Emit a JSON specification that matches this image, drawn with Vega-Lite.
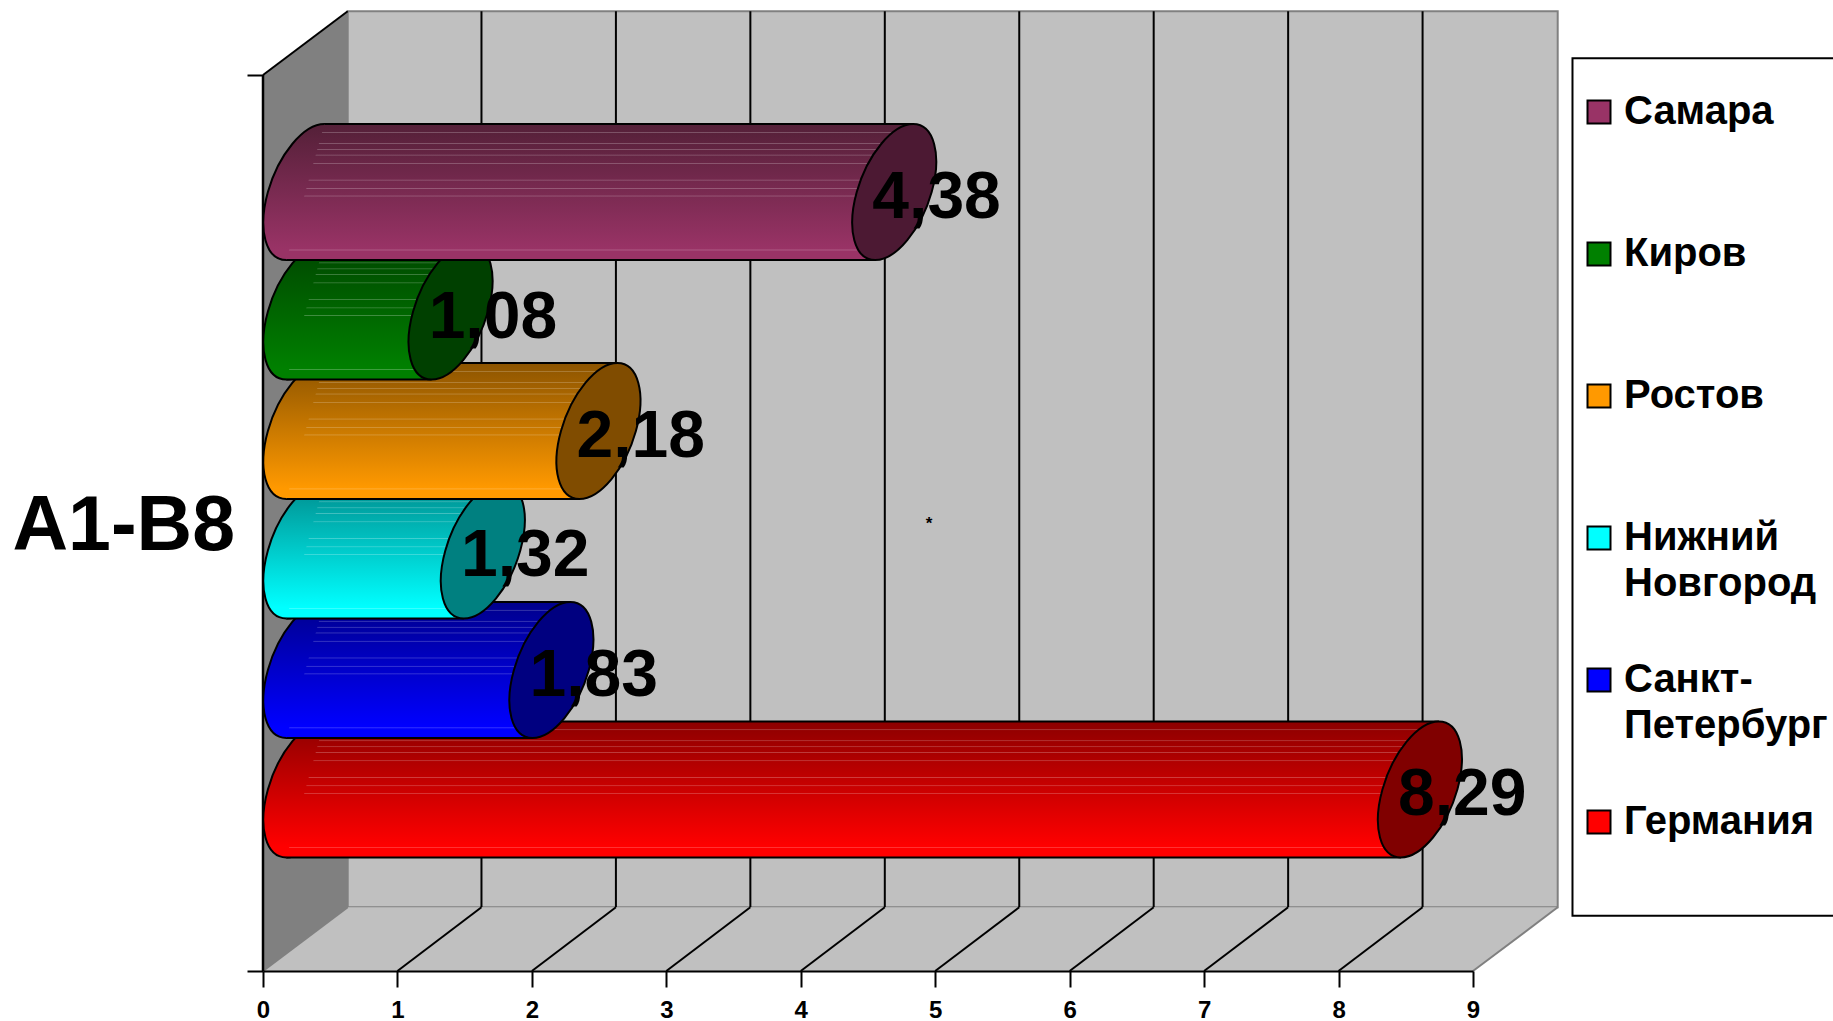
{
"$schema":"https://vega.github.io/schema/vega-lite/v6.json",
"width":1210,"height":896,
"autosize":{"type":"none"},
"padding":{"left":263,"top":75,"right":360,"bottom":50},
"background":"white",
"datasets":{
"cities":[
{"city":"Германия","value":8.29,"rank":1},
{"city":"Санкт-Петербург","value":1.83,"rank":2},
{"city":"Нижний Новгород","value":1.32,"rank":3},
{"city":"Ростов","value":2.18,"rank":4},
{"city":"Киров","value":1.08,"rank":5},
{"city":"Самара","value":4.38,"rank":6}],
"ticks":[{"tick":1},{"tick":2},{"tick":3},{"tick":4},{"tick":5},{"tick":6},{"tick":7},{"tick":8}],
"planes":[{"plane":0},{"plane":1}]
},
"data":{"name":"cities"},
"layer":[
{"data":{"values":[{}]},"mark":{"type":"rect","fill":"#c0c0c0","stroke":"#808080","strokeWidth":2},
"encoding":{"x":{"datum":0.63,"type":"quantitative","scale":{"domain":[0,9],"nice":false,"zero":false},
"axis":{"title":null,"values":[0,1,2,3,4,5,6,7,8,9],"format":"d","grid":false,"zindex":1,"domainColor":"#000","domainWidth":2,"tickColor":"#000","tickWidth":2,"tickSize":16,"labelFont":"Liberation Sans","labelFontWeight":"bold","labelFontSize":24,"labelColor":"#000","labelPadding":11,"labelFlush":false,"labelOverlap":false}},
"x2":{"datum":9.63},
"y":{"datum":0.533,"type":"quantitative","scale":{"domain":[0,7.5],"nice":false,"zero":false},
"axis":{"title":"A1-B8","values":[0,7.5],"labels":false,"grid":false,"domainColor":"#000","domainWidth":2,"tickColor":"#000","tickWidth":2,"tickSize":16,"titleFont":"Liberation Sans","titleFontWeight":"bold","titleFontSize":77,"titleColor":"#000","titleAngle":0,"titleAlign":"left","titleBaseline":"middle","titleX":-251,"titleY":451}},
"y2":{"datum":8.033}}},
{"data":{"name":"ticks"},"transform":[{"calculate":"datum.tick+0.625","as":"backX"}],"layer":[
{"mark":{"type":"rule","color":"#000","strokeWidth":2},"encoding":{"x":{"field":"backX","type":"quantitative"},"y":{"datum":0.533,"type":"quantitative"},"y2":{"datum":8.033}}}
]},
{"data":{"name":"planes"},"transform":[{"calculate":"datum.plane*0.63","as":"dx"},{"calculate":"datum.plane*0.533","as":"dy"},{"calculate":"9+datum.dx","as":"floorEnd"},{"calculate":"7.5+datum.dy","as":"wallTop"}],"layer":[
{"mark":{"type":"area","orient":"horizontal","fill":"#c0c0c0"},"encoding":{"x":{"field":"dx","type":"quantitative","stack":null},"x2":{"field":"floorEnd"},"y":{"field":"dy","type":"quantitative"}}},
{"mark":{"type":"area","orient":"vertical","fill":"#808080"},"encoding":{"x":{"field":"dx","type":"quantitative"},"y":{"field":"dy","type":"quantitative","stack":null},"y2":{"field":"wallTop"}}}
]},
{"data":{"name":"ticks"},"transform":[{"calculate":"datum.tick+0.625","as":"backX"}],"layer":[
{"mark":{"type":"rule","color":"#000","strokeWidth":2},"encoding":{"x":{"field":"tick","type":"quantitative"},"x2":{"field":"backX"},"y":{"datum":0,"type":"quantitative"},"y2":{"datum":0.533}}}
]},
{"data":{"values":[{}]},"layer":[
{"mark":{"type":"rule","color":"#808080","strokeWidth":2},"encoding":{"x":{"datum":9,"type":"quantitative"},"x2":{"datum":9.63},"y":{"datum":0,"type":"quantitative"},"y2":{"datum":0.533}}},
{"mark":{"type":"rule","color":"#808080","strokeWidth":2},"encoding":{"x":{"datum":0,"type":"quantitative"},"x2":{"datum":0.63},"y":{"datum":0,"type":"quantitative"},"y2":{"datum":0.533}}},
{"mark":{"type":"rule","color":"#000","strokeWidth":2},"encoding":{"x":{"datum":0,"type":"quantitative"},"x2":{"datum":0.63},"y":{"datum":7.5,"type":"quantitative"},"y2":{"datum":8.033}}},
{"mark":{"type":"rule","color":"#000","strokeWidth":2.5},"encoding":{"x":{"datum":0,"type":"quantitative"},"y":{"datum":0,"type":"quantitative"},"y2":{"datum":7.5}}},
{"mark":{"type":"rect","fill":"#fff","stroke":"#000","strokeWidth":2},"encoding":{"x":{"datum":9.74,"type":"quantitative"},"x2":{"datum":12},"y":{"datum":0.463,"type":"quantitative"},"y2":{"datum":7.64}}},
{"mark":{"type":"text","text":"*","font":"Liberation Sans","fontWeight":"bold","fontSize":17,"color":"#000"},"encoding":{"x":{"datum":4.955,"type":"quantitative"},"y":{"datum":3.74,"type":"quantitative"}}}
]},
{"transform":[
{"calculate":"datum.rank+0.52","as":"rowY"},
{"calculate":"[-1,1]","as":"side"},
{"flatten":["side"]},
{"calculate":"0.315+datum.side*0.1414","as":"bodyStart"},
{"calculate":"datum.value+0.315+datum.side*0.1414","as":"bodyEnd"},
{"calculate":"datum.rowY+datum.side*0.569","as":"edgeY"},
{"calculate":"datum.value+0.315","as":"capX"},
{"calculate":"datum.value+0.63","as":"labelX"},
{"calculate":"replace(format(datum.value,'.2f'),'.',',')","as":"label"}
],
"layer":[
{"transform":[{"filter":"datum.rank===1"}],"layer":[
{"transform":[{"filter":"datum.side>0"}],"mark":{"type":"point","shape":"M0.279 -1C0.583 -1 0.705 -0.552 0.551 0C0.397 0.552 0.025 1 -0.279 1C-0.583 1 -0.705 0.552 -0.551 0C-0.397 -0.552 -0.025 -1 0.279 -1Z","size":18496,"filled":true,"opacity":1,"stroke":"#000","strokeWidth":2,"fill":{"gradient":"linear","x1":0,"y1":0,"x2":0,"y2":1,"stops":[{"offset":0,"color":"#8c0000"},{"offset":0.92,"color":"#ff0000"},{"offset":1,"color":"#ff0000"}]}},"encoding":{"x":{"datum":0.315,"type":"quantitative"},"y":{"field":"rowY","type":"quantitative"}}},
{"mark":{"type":"area","orient":"horizontal","fill":{"gradient":"linear","x1":0,"y1":0,"x2":0,"y2":1,"stops":[{"offset":0,"color":"#8c0000"},{"offset":0.92,"color":"#ff0000"},{"offset":1,"color":"#ff0000"}]}},"encoding":{"x":{"field":"bodyStart","type":"quantitative","stack":null},"x2":{"field":"bodyEnd"},"y":{"field":"edgeY","type":"quantitative"}}},
{"mark":{"type":"area","orient":"horizontal","fill":{"gradient":"linear","x1":0,"y1":0,"x2":0,"y2":1,"stops":[{"offset":0.055,"color":"#ffffff00"},{"offset":0.061,"color":"#ffffff40"},{"offset":0.067,"color":"#ffffff00"},{"offset":0.136,"color":"#ffffff00"},{"offset":0.142,"color":"#ffffff40"},{"offset":0.148,"color":"#ffffff00"},{"offset":0.18,"color":"#ffffff00"},{"offset":0.186,"color":"#ffffff40"},{"offset":0.192,"color":"#ffffff00"},{"offset":0.222,"color":"#ffffff00"},{"offset":0.228,"color":"#ffffff40"},{"offset":0.234,"color":"#ffffff00"},{"offset":0.283,"color":"#ffffff00"},{"offset":0.289,"color":"#ffffff40"},{"offset":0.295,"color":"#ffffff00"},{"offset":0.406,"color":"#ffffff00"},{"offset":0.412,"color":"#ffffff40"},{"offset":0.418,"color":"#ffffff00"},{"offset":0.467,"color":"#ffffff00"},{"offset":0.473,"color":"#ffffff40"},{"offset":0.479,"color":"#ffffff00"},{"offset":0.523,"color":"#ffffff00"},{"offset":0.529,"color":"#ffffff40"},{"offset":0.535,"color":"#ffffff00"},{"offset":0.92,"color":"#ffffff00"},{"offset":0.926,"color":"#ffffff40"},{"offset":0.932,"color":"#ffffff00"}]}},"encoding":{"x":{"field":"bodyStart","type":"quantitative","stack":null},"x2":{"field":"bodyEnd"},"y":{"field":"edgeY","type":"quantitative"}}},
{"mark":{"type":"rule","color":"#000","strokeWidth":2},"encoding":{"x":{"field":"bodyStart","type":"quantitative"},"x2":{"field":"bodyEnd"},"y":{"field":"edgeY","type":"quantitative"}}},
{"transform":[{"filter":"datum.side>0"}],"mark":{"type":"point","shape":"M0.279 -1C0.583 -1 0.705 -0.552 0.551 0C0.397 0.552 0.025 1 -0.279 1C-0.583 1 -0.705 0.552 -0.551 0C-0.397 -0.552 -0.025 -1 0.279 -1Z","size":18496,"filled":true,"opacity":1,"stroke":"#000","strokeWidth":2,"fill":"#800000"},"encoding":{"x":{"field":"capX","type":"quantitative"},"y":{"field":"rowY","type":"quantitative"}}}
]},
{"transform":[{"filter":"datum.rank===2"}],"layer":[
{"transform":[{"filter":"datum.side>0"}],"mark":{"type":"point","shape":"M0.279 -1C0.583 -1 0.705 -0.552 0.551 0C0.397 0.552 0.025 1 -0.279 1C-0.583 1 -0.705 0.552 -0.551 0C-0.397 -0.552 -0.025 -1 0.279 -1Z","size":18496,"filled":true,"opacity":1,"stroke":"#000","strokeWidth":2,"fill":{"gradient":"linear","x1":0,"y1":0,"x2":0,"y2":1,"stops":[{"offset":0,"color":"#00008c"},{"offset":0.92,"color":"#0000ff"},{"offset":1,"color":"#0000ff"}]}},"encoding":{"x":{"datum":0.315,"type":"quantitative"},"y":{"field":"rowY","type":"quantitative"}}},
{"mark":{"type":"area","orient":"horizontal","fill":{"gradient":"linear","x1":0,"y1":0,"x2":0,"y2":1,"stops":[{"offset":0,"color":"#00008c"},{"offset":0.92,"color":"#0000ff"},{"offset":1,"color":"#0000ff"}]}},"encoding":{"x":{"field":"bodyStart","type":"quantitative","stack":null},"x2":{"field":"bodyEnd"},"y":{"field":"edgeY","type":"quantitative"}}},
{"mark":{"type":"area","orient":"horizontal","fill":{"gradient":"linear","x1":0,"y1":0,"x2":0,"y2":1,"stops":[{"offset":0.055,"color":"#ffffff00"},{"offset":0.061,"color":"#ffffff40"},{"offset":0.067,"color":"#ffffff00"},{"offset":0.136,"color":"#ffffff00"},{"offset":0.142,"color":"#ffffff40"},{"offset":0.148,"color":"#ffffff00"},{"offset":0.18,"color":"#ffffff00"},{"offset":0.186,"color":"#ffffff40"},{"offset":0.192,"color":"#ffffff00"},{"offset":0.222,"color":"#ffffff00"},{"offset":0.228,"color":"#ffffff40"},{"offset":0.234,"color":"#ffffff00"},{"offset":0.283,"color":"#ffffff00"},{"offset":0.289,"color":"#ffffff40"},{"offset":0.295,"color":"#ffffff00"},{"offset":0.406,"color":"#ffffff00"},{"offset":0.412,"color":"#ffffff40"},{"offset":0.418,"color":"#ffffff00"},{"offset":0.467,"color":"#ffffff00"},{"offset":0.473,"color":"#ffffff40"},{"offset":0.479,"color":"#ffffff00"},{"offset":0.523,"color":"#ffffff00"},{"offset":0.529,"color":"#ffffff40"},{"offset":0.535,"color":"#ffffff00"},{"offset":0.92,"color":"#ffffff00"},{"offset":0.926,"color":"#ffffff40"},{"offset":0.932,"color":"#ffffff00"}]}},"encoding":{"x":{"field":"bodyStart","type":"quantitative","stack":null},"x2":{"field":"bodyEnd"},"y":{"field":"edgeY","type":"quantitative"}}},
{"mark":{"type":"rule","color":"#000","strokeWidth":2},"encoding":{"x":{"field":"bodyStart","type":"quantitative"},"x2":{"field":"bodyEnd"},"y":{"field":"edgeY","type":"quantitative"}}},
{"transform":[{"filter":"datum.side>0"}],"mark":{"type":"point","shape":"M0.279 -1C0.583 -1 0.705 -0.552 0.551 0C0.397 0.552 0.025 1 -0.279 1C-0.583 1 -0.705 0.552 -0.551 0C-0.397 -0.552 -0.025 -1 0.279 -1Z","size":18496,"filled":true,"opacity":1,"stroke":"#000","strokeWidth":2,"fill":"#000080"},"encoding":{"x":{"field":"capX","type":"quantitative"},"y":{"field":"rowY","type":"quantitative"}}}
]},
{"transform":[{"filter":"datum.rank===3"}],"layer":[
{"transform":[{"filter":"datum.side>0"}],"mark":{"type":"point","shape":"M0.279 -1C0.583 -1 0.705 -0.552 0.551 0C0.397 0.552 0.025 1 -0.279 1C-0.583 1 -0.705 0.552 -0.551 0C-0.397 -0.552 -0.025 -1 0.279 -1Z","size":18496,"filled":true,"opacity":1,"stroke":"#000","strokeWidth":2,"fill":{"gradient":"linear","x1":0,"y1":0,"x2":0,"y2":1,"stops":[{"offset":0,"color":"#008c8c"},{"offset":0.92,"color":"#00ffff"},{"offset":1,"color":"#00ffff"}]}},"encoding":{"x":{"datum":0.315,"type":"quantitative"},"y":{"field":"rowY","type":"quantitative"}}},
{"mark":{"type":"area","orient":"horizontal","fill":{"gradient":"linear","x1":0,"y1":0,"x2":0,"y2":1,"stops":[{"offset":0,"color":"#008c8c"},{"offset":0.92,"color":"#00ffff"},{"offset":1,"color":"#00ffff"}]}},"encoding":{"x":{"field":"bodyStart","type":"quantitative","stack":null},"x2":{"field":"bodyEnd"},"y":{"field":"edgeY","type":"quantitative"}}},
{"mark":{"type":"area","orient":"horizontal","fill":{"gradient":"linear","x1":0,"y1":0,"x2":0,"y2":1,"stops":[{"offset":0.055,"color":"#ffffff00"},{"offset":0.061,"color":"#ffffff40"},{"offset":0.067,"color":"#ffffff00"},{"offset":0.136,"color":"#ffffff00"},{"offset":0.142,"color":"#ffffff40"},{"offset":0.148,"color":"#ffffff00"},{"offset":0.18,"color":"#ffffff00"},{"offset":0.186,"color":"#ffffff40"},{"offset":0.192,"color":"#ffffff00"},{"offset":0.222,"color":"#ffffff00"},{"offset":0.228,"color":"#ffffff40"},{"offset":0.234,"color":"#ffffff00"},{"offset":0.283,"color":"#ffffff00"},{"offset":0.289,"color":"#ffffff40"},{"offset":0.295,"color":"#ffffff00"},{"offset":0.406,"color":"#ffffff00"},{"offset":0.412,"color":"#ffffff40"},{"offset":0.418,"color":"#ffffff00"},{"offset":0.467,"color":"#ffffff00"},{"offset":0.473,"color":"#ffffff40"},{"offset":0.479,"color":"#ffffff00"},{"offset":0.523,"color":"#ffffff00"},{"offset":0.529,"color":"#ffffff40"},{"offset":0.535,"color":"#ffffff00"},{"offset":0.92,"color":"#ffffff00"},{"offset":0.926,"color":"#ffffff40"},{"offset":0.932,"color":"#ffffff00"}]}},"encoding":{"x":{"field":"bodyStart","type":"quantitative","stack":null},"x2":{"field":"bodyEnd"},"y":{"field":"edgeY","type":"quantitative"}}},
{"mark":{"type":"rule","color":"#000","strokeWidth":2},"encoding":{"x":{"field":"bodyStart","type":"quantitative"},"x2":{"field":"bodyEnd"},"y":{"field":"edgeY","type":"quantitative"}}},
{"transform":[{"filter":"datum.side>0"}],"mark":{"type":"point","shape":"M0.279 -1C0.583 -1 0.705 -0.552 0.551 0C0.397 0.552 0.025 1 -0.279 1C-0.583 1 -0.705 0.552 -0.551 0C-0.397 -0.552 -0.025 -1 0.279 -1Z","size":18496,"filled":true,"opacity":1,"stroke":"#000","strokeWidth":2,"fill":"#008080"},"encoding":{"x":{"field":"capX","type":"quantitative"},"y":{"field":"rowY","type":"quantitative"}}}
]},
{"transform":[{"filter":"datum.rank===4"}],"layer":[
{"transform":[{"filter":"datum.side>0"}],"mark":{"type":"point","shape":"M0.279 -1C0.583 -1 0.705 -0.552 0.551 0C0.397 0.552 0.025 1 -0.279 1C-0.583 1 -0.705 0.552 -0.551 0C-0.397 -0.552 -0.025 -1 0.279 -1Z","size":18496,"filled":true,"opacity":1,"stroke":"#000","strokeWidth":2,"fill":{"gradient":"linear","x1":0,"y1":0,"x2":0,"y2":1,"stops":[{"offset":0,"color":"#8c5400"},{"offset":0.92,"color":"#ff9900"},{"offset":1,"color":"#ff9900"}]}},"encoding":{"x":{"datum":0.315,"type":"quantitative"},"y":{"field":"rowY","type":"quantitative"}}},
{"mark":{"type":"area","orient":"horizontal","fill":{"gradient":"linear","x1":0,"y1":0,"x2":0,"y2":1,"stops":[{"offset":0,"color":"#8c5400"},{"offset":0.92,"color":"#ff9900"},{"offset":1,"color":"#ff9900"}]}},"encoding":{"x":{"field":"bodyStart","type":"quantitative","stack":null},"x2":{"field":"bodyEnd"},"y":{"field":"edgeY","type":"quantitative"}}},
{"mark":{"type":"area","orient":"horizontal","fill":{"gradient":"linear","x1":0,"y1":0,"x2":0,"y2":1,"stops":[{"offset":0.055,"color":"#ffffff00"},{"offset":0.061,"color":"#ffffff40"},{"offset":0.067,"color":"#ffffff00"},{"offset":0.136,"color":"#ffffff00"},{"offset":0.142,"color":"#ffffff40"},{"offset":0.148,"color":"#ffffff00"},{"offset":0.18,"color":"#ffffff00"},{"offset":0.186,"color":"#ffffff40"},{"offset":0.192,"color":"#ffffff00"},{"offset":0.222,"color":"#ffffff00"},{"offset":0.228,"color":"#ffffff40"},{"offset":0.234,"color":"#ffffff00"},{"offset":0.283,"color":"#ffffff00"},{"offset":0.289,"color":"#ffffff40"},{"offset":0.295,"color":"#ffffff00"},{"offset":0.406,"color":"#ffffff00"},{"offset":0.412,"color":"#ffffff40"},{"offset":0.418,"color":"#ffffff00"},{"offset":0.467,"color":"#ffffff00"},{"offset":0.473,"color":"#ffffff40"},{"offset":0.479,"color":"#ffffff00"},{"offset":0.523,"color":"#ffffff00"},{"offset":0.529,"color":"#ffffff40"},{"offset":0.535,"color":"#ffffff00"},{"offset":0.92,"color":"#ffffff00"},{"offset":0.926,"color":"#ffffff40"},{"offset":0.932,"color":"#ffffff00"}]}},"encoding":{"x":{"field":"bodyStart","type":"quantitative","stack":null},"x2":{"field":"bodyEnd"},"y":{"field":"edgeY","type":"quantitative"}}},
{"mark":{"type":"rule","color":"#000","strokeWidth":2},"encoding":{"x":{"field":"bodyStart","type":"quantitative"},"x2":{"field":"bodyEnd"},"y":{"field":"edgeY","type":"quantitative"}}},
{"transform":[{"filter":"datum.side>0"}],"mark":{"type":"point","shape":"M0.279 -1C0.583 -1 0.705 -0.552 0.551 0C0.397 0.552 0.025 1 -0.279 1C-0.583 1 -0.705 0.552 -0.551 0C-0.397 -0.552 -0.025 -1 0.279 -1Z","size":18496,"filled":true,"opacity":1,"stroke":"#000","strokeWidth":2,"fill":"#804c00"},"encoding":{"x":{"field":"capX","type":"quantitative"},"y":{"field":"rowY","type":"quantitative"}}}
]},
{"transform":[{"filter":"datum.rank===5"}],"layer":[
{"transform":[{"filter":"datum.side>0"}],"mark":{"type":"point","shape":"M0.279 -1C0.583 -1 0.705 -0.552 0.551 0C0.397 0.552 0.025 1 -0.279 1C-0.583 1 -0.705 0.552 -0.551 0C-0.397 -0.552 -0.025 -1 0.279 -1Z","size":18496,"filled":true,"opacity":1,"stroke":"#000","strokeWidth":2,"fill":{"gradient":"linear","x1":0,"y1":0,"x2":0,"y2":1,"stops":[{"offset":0,"color":"#004600"},{"offset":0.92,"color":"#008000"},{"offset":1,"color":"#008000"}]}},"encoding":{"x":{"datum":0.315,"type":"quantitative"},"y":{"field":"rowY","type":"quantitative"}}},
{"mark":{"type":"area","orient":"horizontal","fill":{"gradient":"linear","x1":0,"y1":0,"x2":0,"y2":1,"stops":[{"offset":0,"color":"#004600"},{"offset":0.92,"color":"#008000"},{"offset":1,"color":"#008000"}]}},"encoding":{"x":{"field":"bodyStart","type":"quantitative","stack":null},"x2":{"field":"bodyEnd"},"y":{"field":"edgeY","type":"quantitative"}}},
{"mark":{"type":"area","orient":"horizontal","fill":{"gradient":"linear","x1":0,"y1":0,"x2":0,"y2":1,"stops":[{"offset":0.055,"color":"#ffffff00"},{"offset":0.061,"color":"#ffffff40"},{"offset":0.067,"color":"#ffffff00"},{"offset":0.136,"color":"#ffffff00"},{"offset":0.142,"color":"#ffffff40"},{"offset":0.148,"color":"#ffffff00"},{"offset":0.18,"color":"#ffffff00"},{"offset":0.186,"color":"#ffffff40"},{"offset":0.192,"color":"#ffffff00"},{"offset":0.222,"color":"#ffffff00"},{"offset":0.228,"color":"#ffffff40"},{"offset":0.234,"color":"#ffffff00"},{"offset":0.283,"color":"#ffffff00"},{"offset":0.289,"color":"#ffffff40"},{"offset":0.295,"color":"#ffffff00"},{"offset":0.406,"color":"#ffffff00"},{"offset":0.412,"color":"#ffffff40"},{"offset":0.418,"color":"#ffffff00"},{"offset":0.467,"color":"#ffffff00"},{"offset":0.473,"color":"#ffffff40"},{"offset":0.479,"color":"#ffffff00"},{"offset":0.523,"color":"#ffffff00"},{"offset":0.529,"color":"#ffffff40"},{"offset":0.535,"color":"#ffffff00"},{"offset":0.92,"color":"#ffffff00"},{"offset":0.926,"color":"#ffffff40"},{"offset":0.932,"color":"#ffffff00"}]}},"encoding":{"x":{"field":"bodyStart","type":"quantitative","stack":null},"x2":{"field":"bodyEnd"},"y":{"field":"edgeY","type":"quantitative"}}},
{"mark":{"type":"rule","color":"#000","strokeWidth":2},"encoding":{"x":{"field":"bodyStart","type":"quantitative"},"x2":{"field":"bodyEnd"},"y":{"field":"edgeY","type":"quantitative"}}},
{"transform":[{"filter":"datum.side>0"}],"mark":{"type":"point","shape":"M0.279 -1C0.583 -1 0.705 -0.552 0.551 0C0.397 0.552 0.025 1 -0.279 1C-0.583 1 -0.705 0.552 -0.551 0C-0.397 -0.552 -0.025 -1 0.279 -1Z","size":18496,"filled":true,"opacity":1,"stroke":"#000","strokeWidth":2,"fill":"#004000"},"encoding":{"x":{"field":"capX","type":"quantitative"},"y":{"field":"rowY","type":"quantitative"}}}
]},
{"transform":[{"filter":"datum.rank===6"}],"layer":[
{"transform":[{"filter":"datum.side>0"}],"mark":{"type":"point","shape":"M0.279 -1C0.583 -1 0.705 -0.552 0.551 0C0.397 0.552 0.025 1 -0.279 1C-0.583 1 -0.705 0.552 -0.551 0C-0.397 -0.552 -0.025 -1 0.279 -1Z","size":18496,"filled":true,"opacity":1,"stroke":"#000","strokeWidth":2,"fill":{"gradient":"linear","x1":0,"y1":0,"x2":0,"y2":1,"stops":[{"offset":0,"color":"#542038"},{"offset":0.92,"color":"#993366"},{"offset":1,"color":"#993366"}]}},"encoding":{"x":{"datum":0.315,"type":"quantitative"},"y":{"field":"rowY","type":"quantitative"}}},
{"mark":{"type":"area","orient":"horizontal","fill":{"gradient":"linear","x1":0,"y1":0,"x2":0,"y2":1,"stops":[{"offset":0,"color":"#542038"},{"offset":0.92,"color":"#993366"},{"offset":1,"color":"#993366"}]}},"encoding":{"x":{"field":"bodyStart","type":"quantitative","stack":null},"x2":{"field":"bodyEnd"},"y":{"field":"edgeY","type":"quantitative"}}},
{"mark":{"type":"area","orient":"horizontal","fill":{"gradient":"linear","x1":0,"y1":0,"x2":0,"y2":1,"stops":[{"offset":0.055,"color":"#ffffff00"},{"offset":0.061,"color":"#ffffff40"},{"offset":0.067,"color":"#ffffff00"},{"offset":0.136,"color":"#ffffff00"},{"offset":0.142,"color":"#ffffff40"},{"offset":0.148,"color":"#ffffff00"},{"offset":0.18,"color":"#ffffff00"},{"offset":0.186,"color":"#ffffff40"},{"offset":0.192,"color":"#ffffff00"},{"offset":0.222,"color":"#ffffff00"},{"offset":0.228,"color":"#ffffff40"},{"offset":0.234,"color":"#ffffff00"},{"offset":0.283,"color":"#ffffff00"},{"offset":0.289,"color":"#ffffff40"},{"offset":0.295,"color":"#ffffff00"},{"offset":0.406,"color":"#ffffff00"},{"offset":0.412,"color":"#ffffff40"},{"offset":0.418,"color":"#ffffff00"},{"offset":0.467,"color":"#ffffff00"},{"offset":0.473,"color":"#ffffff40"},{"offset":0.479,"color":"#ffffff00"},{"offset":0.523,"color":"#ffffff00"},{"offset":0.529,"color":"#ffffff40"},{"offset":0.535,"color":"#ffffff00"},{"offset":0.92,"color":"#ffffff00"},{"offset":0.926,"color":"#ffffff40"},{"offset":0.932,"color":"#ffffff00"}]}},"encoding":{"x":{"field":"bodyStart","type":"quantitative","stack":null},"x2":{"field":"bodyEnd"},"y":{"field":"edgeY","type":"quantitative"}}},
{"mark":{"type":"rule","color":"#000","strokeWidth":2},"encoding":{"x":{"field":"bodyStart","type":"quantitative"},"x2":{"field":"bodyEnd"},"y":{"field":"edgeY","type":"quantitative"}}},
{"transform":[{"filter":"datum.side>0"}],"mark":{"type":"point","shape":"M0.279 -1C0.583 -1 0.705 -0.552 0.551 0C0.397 0.552 0.025 1 -0.279 1C-0.583 1 -0.705 0.552 -0.551 0C-0.397 -0.552 -0.025 -1 0.279 -1Z","size":18496,"filled":true,"opacity":1,"stroke":"#000","strokeWidth":2,"fill":"#4c1933"},"encoding":{"x":{"field":"capX","type":"quantitative"},"y":{"field":"rowY","type":"quantitative"}}}
]},
{"transform":[{"filter":"datum.side>0"}],"mark":{"type":"point","filled":true,"size":0,"opacity":1},
"encoding":{"x":{"field":"capX","type":"quantitative"},"y":{"field":"rowY","type":"quantitative"},
"fill":{"field":"city","type":"nominal","scale":{"domain":["Самара","Киров","Ростов","Нижний Новгород","Санкт-Петербург","Германия"],"range":["#993366","#008000","#ff9900","#00ffff","#0000ff","#ff0000"]},
"legend":{"title":null,"orient":"none","legendX":1316,"legendY":17,"padding":0,"gridAlign":"all","symbolType":"square","symbolSize":529,"symbolStrokeColor":"#000","symbolStrokeWidth":2,"symbolOpacity":1,"rowPadding":56,"labelFont":"Liberation Sans","labelFontWeight":"bold","labelFontSize":40,"labelColor":"#000","labelLimit":400,"labelOffset":5,"labelExpr":"split(replace(datum.label,'-','- '),' ')","encode":{"labels":{"update":{"lineHeight":{"value":46}}}}}}}},
{"transform":[{"filter":"datum.side>0"}],"mark":{"type":"text","font":"Liberation Sans","fontWeight":"bold","fontSize":66,"color":"#000","dy":6},
"encoding":{"x":{"field":"labelX","type":"quantitative"},"y":{"field":"rowY","type":"quantitative"},"text":{"field":"label","type":"nominal"}}}
]}
]
}
